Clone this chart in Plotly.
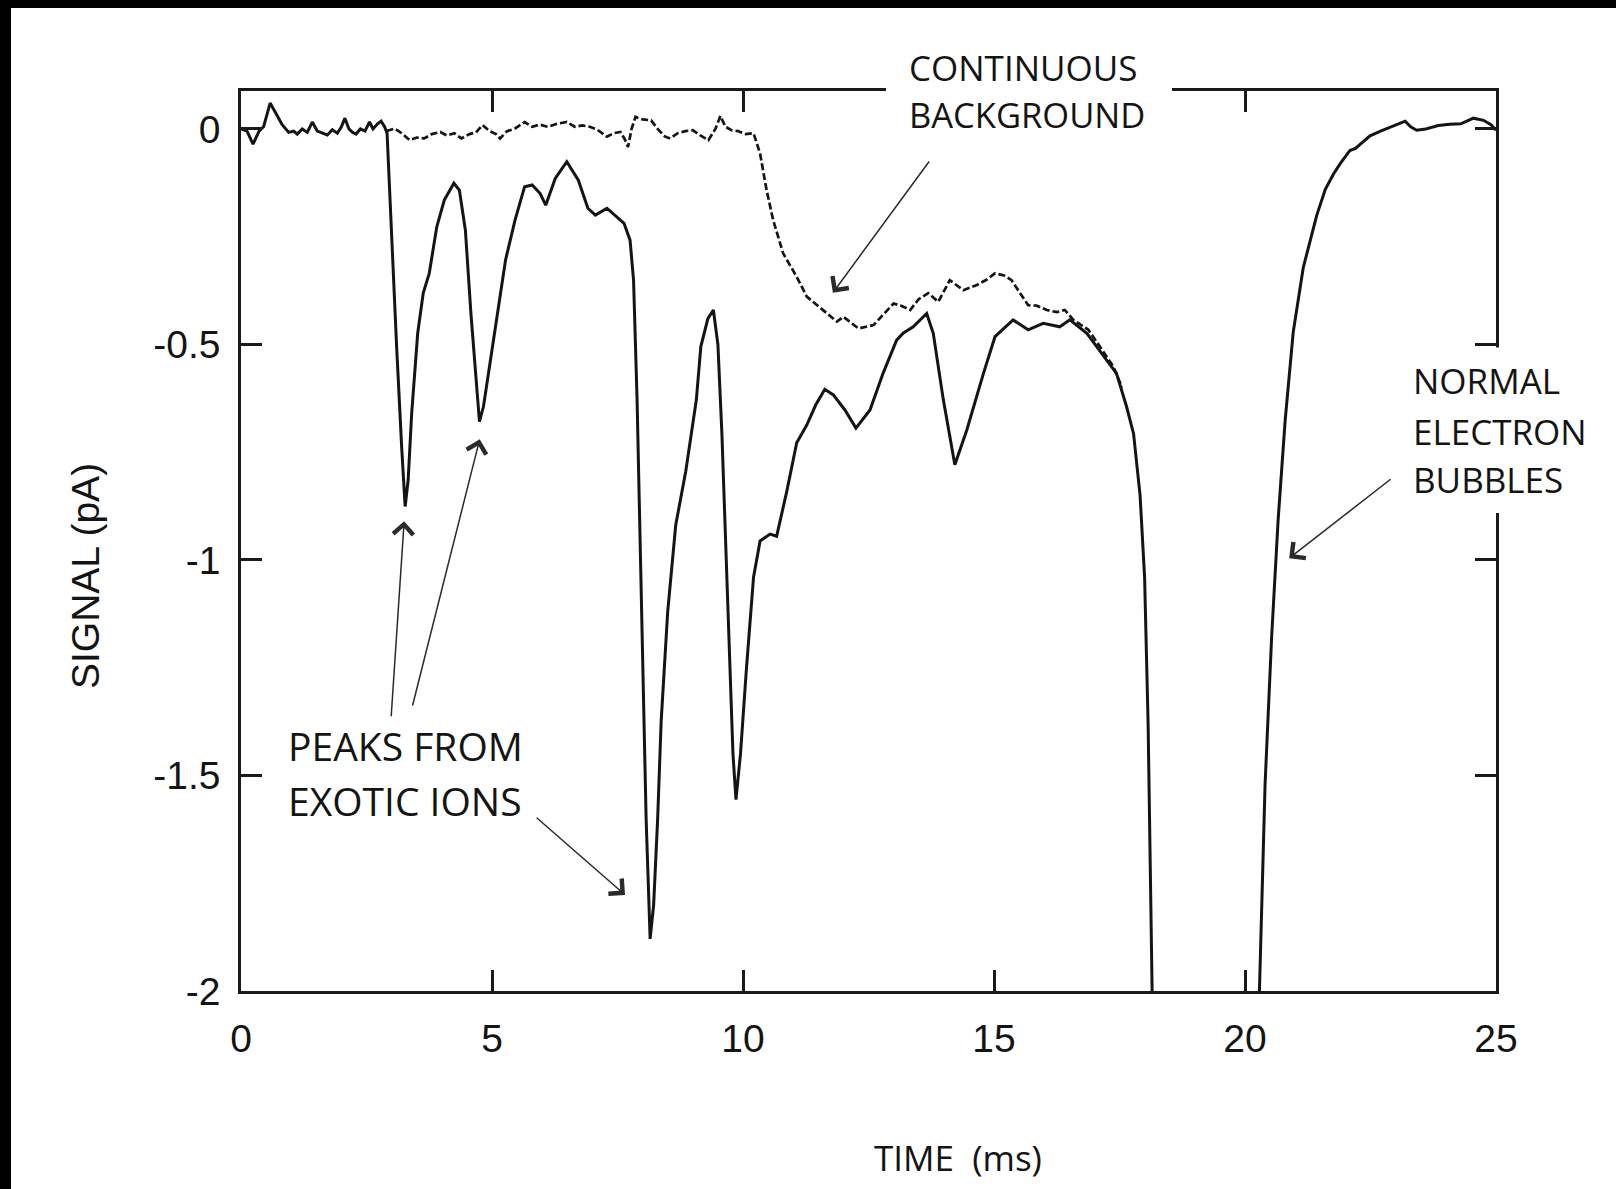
import plotly.graph_objects as go

# ---------------- data ----------------
time_signal = [0.00, 0.12, 0.24, 0.36, 0.45, 0.58, 0.70, 0.82, 0.95, 1.05,
               1.12, 1.22, 1.32, 1.42, 1.52, 1.62, 1.72, 1.82, 1.92, 2.00,
               2.07, 2.15, 2.22, 2.29, 2.38, 2.47, 2.56, 2.63, 2.72, 2.79,
               2.86, 2.91, 2.98, 3.10, 3.20, 3.27, 3.33, 3.40, 3.52, 3.63,
               3.75, 3.90, 4.05, 4.24, 4.35, 4.47, 4.58, 4.70, 4.75, 4.83,
               4.96, 5.12, 5.27, 5.46, 5.65, 5.80, 5.96, 6.07, 6.26, 6.49,
               6.72, 6.91, 7.06, 7.29, 7.48, 7.63, 7.75, 7.82, 7.89, 7.99,
               8.07, 8.15, 8.22, 8.30, 8.37, 8.50, 8.66, 8.86, 9.07, 9.16,
               9.30, 9.41, 9.50, 9.58, 9.71, 9.80, 9.86, 9.95, 10.07, 10.21,
               10.34, 10.54, 10.67, 10.87, 11.07, 11.27, 11.45, 11.63, 11.80, 12.03,
               12.25, 12.53, 12.79, 13.06, 13.19, 13.39, 13.66, 13.79, 13.99, 14.22,
               14.46, 14.79, 15.02, 15.38, 15.68, 15.98, 16.31, 16.51, 16.85, 17.25,
               17.44, 17.64, 17.78, 17.91, 18.00, 18.07, 18.11, 18.15, 18.40, 19.30,
               20.10, 20.28, 20.40, 20.53, 20.66, 20.80, 20.96, 21.16, 21.43, 21.60,
               21.76, 21.90, 22.09, 22.20, 22.49, 22.70, 22.89, 23.00, 23.19, 23.30,
               23.42, 23.60, 23.85, 24.08, 24.30, 24.55, 24.75, 24.90, 25.00]
signal = [0.000, -0.005, -0.035, -0.005, 0.005, 0.060, 0.035, 0.010, -0.008, -0.005,
          -0.012, 0.000, -0.008, 0.016, -0.005, -0.010, -0.014, -0.002, -0.010, 0.005,
          0.025, 0.000, -0.008, -0.012, 0.000, -0.005, 0.016, 0.000, 0.012, 0.018,
          0.005, -0.010, -0.196, -0.505, -0.737, -0.876, -0.814, -0.660, -0.474, -0.381,
          -0.335, -0.227, -0.165, -0.126, -0.142, -0.235, -0.428, -0.621, -0.679, -0.644,
          -0.544, -0.428, -0.304, -0.211, -0.134, -0.130, -0.150, -0.177, -0.115, -0.076,
          -0.119, -0.184, -0.200, -0.184, -0.204, -0.219, -0.258, -0.351, -0.629, -1.208,
          -1.600, -1.879, -1.800, -1.600, -1.374, -1.120, -0.919, -0.794, -0.629, -0.505,
          -0.440, -0.420, -0.500, -0.708, -1.121, -1.450, -1.556, -1.450, -1.250, -1.040,
          -0.956, -0.940, -0.945, -0.842, -0.728, -0.687, -0.640, -0.604, -0.617, -0.652,
          -0.694, -0.652, -0.567, -0.490, -0.474, -0.459, -0.428, -0.474, -0.628, -0.779,
          -0.698, -0.567, -0.482, -0.443, -0.466, -0.451, -0.459, -0.443, -0.474, -0.536,
          -0.567, -0.644, -0.707, -0.850, -1.040, -1.380, -1.660, -2.000, -2.900, -3.400,
          -2.800, -2.000, -1.520, -1.180, -0.907, -0.676, -0.472, -0.322, -0.200, -0.140,
          -0.105, -0.080, -0.050, -0.045, -0.016, -0.005, 0.004, 0.010, 0.018, 0.005,
          -0.003, 0.000, 0.008, 0.011, 0.012, 0.025, 0.020, 0.010, -0.003]

time_background = [2.90, 3.06, 3.20, 3.36, 3.50, 3.65, 3.80, 3.97, 4.10, 4.25,
                   4.39, 4.55, 4.68, 4.81, 4.95, 5.08, 5.16, 5.30, 5.45, 5.65,
                   5.80, 5.95, 6.11, 6.30, 6.49, 6.65, 6.80, 6.95, 7.10, 7.29,
                   7.42, 7.56, 7.65, 7.71, 7.78, 7.86, 8.00, 8.17, 8.30, 8.45,
                   8.55, 8.70, 8.85, 9.00, 9.15, 9.31, 9.45, 9.55, 9.65, 9.77,
                   9.90, 10.05, 10.21, 10.34, 10.47, 10.60, 10.80, 11.07, 11.27, 11.60,
                   11.87, 12.00, 12.30, 12.60, 12.80, 13.00, 13.15, 13.33, 13.50, 13.69,
                   13.89, 14.12, 14.39, 14.66, 14.85, 15.02, 15.20, 15.35, 15.52, 15.68,
                   15.85, 16.05, 16.25, 16.41, 16.58, 16.88, 17.11, 17.38, 17.55]
background = [-0.005, 0.001, -0.010, -0.026, -0.020, -0.022, -0.012, -0.007, -0.015, -0.010,
              -0.022, -0.012, -0.008, 0.009, -0.005, -0.012, -0.022, -0.005, 0.000, 0.016,
              0.005, 0.010, 0.005, 0.012, 0.016, 0.005, 0.008, 0.005, -0.002, -0.018,
              -0.010, -0.007, -0.025, -0.042, 0.000, 0.028, 0.022, 0.020, 0.000, -0.018,
              -0.022, -0.010, -0.005, -0.003, -0.015, -0.026, 0.000, 0.030, 0.005, -0.003,
              -0.005, -0.012, -0.010, -0.057, -0.142, -0.211, -0.289, -0.343, -0.389, -0.420,
              -0.447, -0.436, -0.463, -0.455, -0.430, -0.405, -0.410, -0.420, -0.395, -0.381,
              -0.401, -0.351, -0.374, -0.362, -0.350, -0.335, -0.340, -0.351, -0.381, -0.409,
              -0.410, -0.420, -0.425, -0.420, -0.443, -0.466, -0.505, -0.552, -0.600]

x_ticks = [0, 5, 10, 15, 20, 25]
x_tick_labels = ["0", "5", "10", "15", "20", "25"]
y_ticks = [0, -0.5, -1, -1.5, -2]
y_tick_labels = ["0", "-0.5", "-1", "-1.5", "-2"]

# ---------------- layout geometry ----------------
W, H = 1616, 1189
L, R, T, B = 241, 120, 91, 198
PW, PH = W - L - R, H - T - B


def fx(p):
    return (p - L) / PW


def fy(q):
    return (H - B - q) / PH


INK = "#141414"
LABEL_FONT = "Open Sans, Lato, sans-serif"
AXIS_FONT = "Liberation Sans, Arial, sans-serif"

fig = go.Figure()
fig.add_trace(go.Scatter(x=time_background, y=background, mode="lines",
                         line=dict(color=INK, width=2.7, dash="7px,3px"),
                         hoverinfo="skip"))
fig.add_trace(go.Scatter(x=time_signal, y=signal, mode="lines",
                         line=dict(color=INK, width=3.0),
                         hoverinfo="skip"))

axis_common = dict(ticks="inside", ticklen=21, tickwidth=2.5, tickcolor="#1a1a1a",
                   showline=True, linewidth=2.5, linecolor="#1a1a1a", mirror="ticks",
                   showgrid=False, zeroline=False,
                   tickfont=dict(family=AXIS_FONT, size=39, color=INK))

fig.update_layout(
    width=W, height=H,
    margin=dict(l=L, r=R, t=T, b=B, pad=0),
    paper_bgcolor="white", plot_bgcolor="white",
    showlegend=False,
    xaxis=dict(range=[0, 25], tickvals=x_ticks, ticktext=x_tick_labels,
               ticklabelstandoff=11, **axis_common),
    yaxis=dict(range=[-2, 0.088], tickvals=y_ticks, ticktext=y_tick_labels,
               ticklabelstandoff=10, **axis_common),
)

shapes = [
    # gaps in the frame behind the labels
    dict(type="rect", xref="paper", yref="paper", x0=fx(886), x1=fx(1172), y0=fy(122), y1=fy(40),
         fillcolor="white", line=dict(width=0), layer="above"),
    dict(type="rect", xref="paper", yref="paper", x0=fx(1405), x1=fx(1600), y0=fy(513), y1=fy(347.5),
         fillcolor="white", line=dict(width=0), layer="above"),
    # black borders of the scanned image
    dict(type="rect", xref="paper", yref="paper", x0=fx(-5), x1=fx(11), y0=fy(1195), y1=fy(-5),
         fillcolor="black", line=dict(width=0), layer="above"),
    dict(type="rect", xref="paper", yref="paper", x0=fx(-5), x1=fx(1620), y0=fy(8), y1=fy(-5),
         fillcolor="black", line=dict(width=0), layer="above"),
]
fig.update_layout(shapes=shapes)

annotations = []


def text_line(txt, left, ymid, size):
    annotations.append(dict(text=txt, xref="paper", yref="paper", x=fx(left), y=fy(ymid),
                            xanchor="left", yanchor="middle", showarrow=False,
                            font=dict(family=LABEL_FONT, size=size, color=INK)))


text_line("CONTINUOUS", 907, 67, 35)
text_line("BACKGROUND", 907, 114, 34.5)
text_line("PEAKS FROM", 286, 745, 39)
text_line("EXOTIC IONS", 286, 800, 39)
text_line("NORMAL", 1411, 381, 35)
text_line("ELECTRON", 1411, 431, 35)
text_line("BUBBLES", 1411, 480, 35)

annotations.append(dict(text="TIME \u00a0(ms)", xref="paper", yref="paper", x=fx(958), y=fy(1157),
                        xanchor="center", yanchor="middle", showarrow=False,
                        font=dict(family=LABEL_FONT, size=35, color=INK)))
annotations.append(dict(text="SIGNAL (pA)", xref="paper", yref="paper", x=fx(85), y=fy(576),
                        xanchor="center", yanchor="middle", showarrow=False, textangle=-90,
                        font=dict(family=AXIS_FONT, size=39, color=INK)))

# arrows: (head x, head y, tail x, tail y) in data units
arrows = [
    (3.25, -0.91, 2.99, -1.366),
    (4.755, -0.72, 3.41, -1.341),
    (7.65, -1.777, 5.86, -1.595),
    (11.79, -0.38, 13.73, -0.072),
    (20.88, -0.996, 22.93, -0.81),
]
for hx, hy, tx, ty in arrows:
    annotations.append(dict(text="", x=hx, y=hy, xref="x", yref="y",
                            ax=tx, ay=ty, axref="x", ayref="y",
                            showarrow=True, arrowhead=4, arrowsize=2.6, arrowwidth=1.5,
                            arrowcolor="#2a2a2a", standoff=0))

fig.update_layout(annotations=annotations)

fig.write_html("out.html", config={"displayModeBar": False})
